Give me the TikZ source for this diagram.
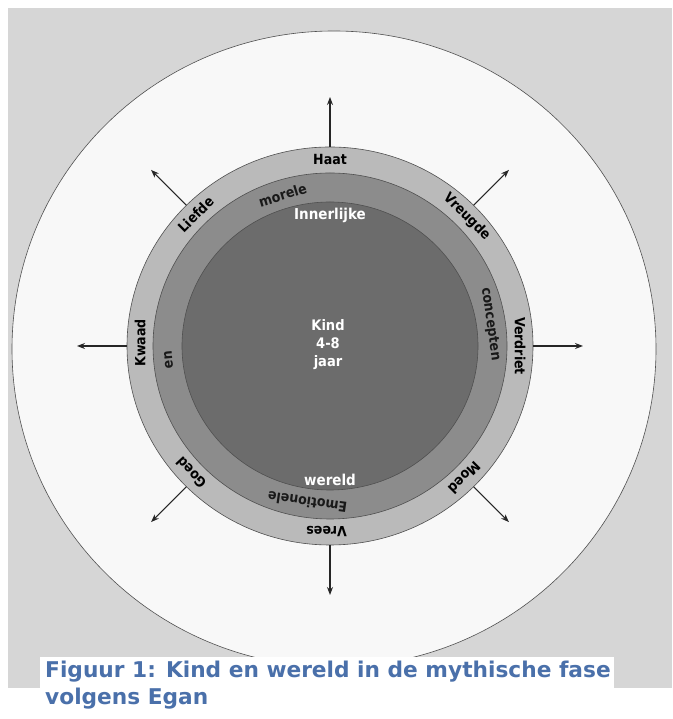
\documentclass[tikz,border=0pt]{standalone}
\usepackage{fontspec}
\newfontfamily\labfont{DejaVu Sans Condensed Bold}
\newfontfamily\capfont{DejaVu Sans Bold}
\usetikzlibrary{calc,arrows.meta}
\definecolor{bggray}{RGB}{214,214,214}
\definecolor{bigfill}{RGB}{248,248,248}
\definecolor{outerfill}{RGB}{186,186,186}
\definecolor{midfill}{RGB}{140,140,140}
\definecolor{innerfill}{RGB}{108,108,108}
\definecolor{edgecol}{RGB}{80,80,80}
\definecolor{capblue}{RGB}{74,112,170}
\begin{document}
\begin{tikzpicture}[x=1pt,y=1pt,
  ringline/.style={draw=edgecol, line width=0.6pt},
  outerlab/.style={font=\labfont\fontsize{14}{14}\selectfont, text=black, inner sep=0pt},
  midlab/.style={font=\labfont\fontsize{14}{14}\selectfont, text=black!90, inner sep=0pt},
  innlab/.style={font=\labfont\fontsize{15}{15}\selectfont, text=white, inner sep=0pt},
  centerlab/.style={font=\labfont\fontsize{14.5}{18}\selectfont, text=white, align=center, inner sep=0pt},
  arr/.style={-{Stealth[length=8pt,width=6pt]}, line width=1.1pt, draw=black!85},
  captext/.style={font=\capfont\fontsize{21.7}{21.7}\selectfont, text=capblue, inner sep=0pt, anchor=base west}]
\useasboundingbox (0,0) rectangle (672,719);
% background
\fill[bggray] (8,31) rectangle (672,711);
% big white ellipse
\draw[ringline, fill=bigfill] (334,370) ellipse [x radius=322pt, y radius=318pt];
% rings
\coordinate (O) at (330,373);
\draw[ringline, fill=outerfill] (O) ellipse [x radius=203pt, y radius=199pt];
\draw[ringline, fill=midfill] (O) ellipse [x radius=177pt, y radius=173pt];
\draw[ringline, fill=innerfill] (O) ellipse [x radius=148pt, y radius=144pt];
% arrows
\foreach \a/\n in {90/n,45/ne,0/e,-45/se,-90/s,-135/sw,180/w,135/nw}{
  \coordinate (arrS\n) at ($(O)+(\a:203pt and 199pt)$);
  \coordinate (arrE\n) at ($(O)+(\a:253pt and 249pt)$);
  \draw[arr] (arrS\n) -- (arrE\n);
}
% outer ring labels
\node[outerlab, rotate=0]    (haat)     at ($(O)+(90:190pt and 186pt)$)   {Haat};
\node[outerlab, rotate=-45]  (vreugde)  at ($(O)+(44:190pt and 186pt)$)   {Vreugde};
\node[outerlab, rotate=-90]  (verdriet) at ($(O)+(0:190pt and 186pt)$)    {Verdriet};
\node[outerlab, rotate=-135] (moed)     at ($(O)+(-45:190pt and 186pt)$)  {Moed};
\node[outerlab, rotate=180]  (vrees)    at ($(O)+(-91:190pt and 186pt)$)  {Vrees};
\node[outerlab, rotate=133]  (goed)     at ($(O)+(-137:190pt and 186pt)$) {Goed};
\node[outerlab, rotate=90]   (kwaad)    at ($(O)+(179:190pt and 186pt)$)  {Kwaad};
\node[outerlab, rotate=45]   (liefde)   at ($(O)+(135:190pt and 186pt)$)  {Liefde};
% middle ring labels
\node[midlab, rotate=17]  (morele)     at ($(O)+(107:162pt and 158pt)$) {morele};
\node[midlab, rotate=95]  (en)         at ($(O)+(185:162pt and 158pt)$) {en};
\node[midlab, rotate=172] (emotionele) at ($(O)+(-98:162pt and 158pt)$) {Emotionele};
\node[midlab, rotate=-82] (concepten)  at ($(O)+(8:162pt and 158pt)$)   {concepten};
% inner labels
\node[innlab] (innerlijke) at ($(O)+(90:133pt and 131pt)$)  {Innerlijke};
\node[innlab] (wereld)     at ($(O)+(-90:138pt and 134pt)$) {wereld};
\node[centerlab] (kind) at ($(O)+(-2,1)$) {Kind\\4-8\\jaar};
% caption
\fill[white] (40,29) rectangle (614,62);
\node[captext] (cap1) at (45,41) {Figuur 1: Kind en wereld in de mythische fase};
\node[captext] (cap2) at (45,14) {volgens Egan};
\end{tikzpicture}
\end{document}
